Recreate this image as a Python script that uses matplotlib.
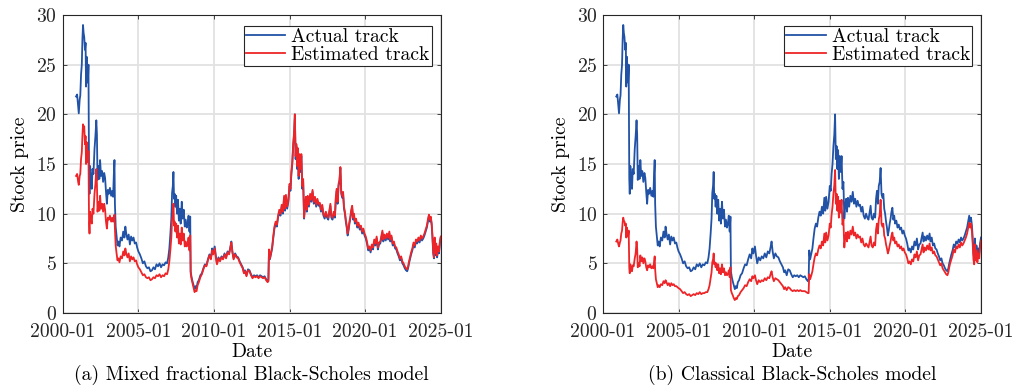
import matplotlib
matplotlib.use("Agg")
import matplotlib.pyplot as plt

plt.rcParams['font.family'] = ['cmr10', 'DejaVu Serif']
plt.rcParams['mathtext.fontset'] = 'cm'
plt.rcParams['axes.unicode_minus'] = False
plt.rcParams['axes.formatter.use_mathtext'] = True

# sample times (decimal years)
years = [
    2000.88, 2000.95, 2001.02, 2001.06, 2001.12, 2001.16, 2001.21, 2001.26, 2001.30, 2001.34,
    2001.38, 2001.42, 2001.47, 2001.51, 2001.54, 2001.58, 2001.62, 2001.66, 2001.70, 2001.74,
    2001.77, 2001.81, 2001.86, 2001.92, 2001.97, 2002.03, 2002.10, 2002.16, 2002.22, 2002.26,
    2002.30, 2002.36, 2002.42, 2002.47, 2002.53, 2002.60, 2002.67, 2002.74, 2002.80, 2002.86,
    2002.92, 2002.98, 2003.05, 2003.12, 2003.20, 2003.27, 2003.33, 2003.38, 2003.42, 2003.45,
    2003.50, 2003.56, 2003.62, 2003.68, 2003.75, 2003.83, 2003.92, 2004.00, 2004.08, 2004.14,
    2004.20, 2004.28, 2004.36, 2004.44, 2004.52, 2004.60, 2004.68, 2004.76, 2004.85, 2004.92,
    2005.00, 2005.10, 2005.20, 2005.30, 2005.40, 2005.50, 2005.60, 2005.70, 2005.80, 2005.90,
    2006.00, 2006.10, 2006.20, 2006.30, 2006.40, 2006.50, 2006.60, 2006.70, 2006.80, 2006.90,
    2006.98, 2007.05, 2007.12, 2007.18, 2007.23, 2007.28, 2007.32, 2007.36, 2007.40, 2007.45,
    2007.50, 2007.56, 2007.62, 2007.68, 2007.74, 2007.80, 2007.87, 2007.93, 2008.00, 2008.07,
    2008.13, 2008.20, 2008.26, 2008.32, 2008.38, 2008.43, 2008.46, 2008.52, 2008.58, 2008.65,
    2008.72, 2008.78, 2008.85, 2008.92, 2009.00, 2009.10, 2009.20, 2009.30, 2009.40, 2009.50,
    2009.60, 2009.70, 2009.80, 2009.88, 2009.95, 2010.05, 2010.12, 2010.20, 2010.30, 2010.40,
    2010.50, 2010.60, 2010.70, 2010.80, 2010.90, 2011.00, 2011.08, 2011.15, 2011.22, 2011.30,
    2011.40, 2011.50, 2011.60, 2011.70, 2011.80, 2011.90, 2011.98, 2012.05, 2012.15, 2012.25,
    2012.35, 2012.45, 2012.55, 2012.65, 2012.75, 2012.85, 2012.95, 2013.05, 2013.15, 2013.25,
    2013.35, 2013.45, 2013.55, 2013.60, 2013.64, 2013.70, 2013.78, 2013.85, 2013.92, 2014.00,
    2014.08, 2014.16, 2014.24, 2014.32, 2014.40, 2014.48, 2014.56, 2014.64, 2014.70, 2014.76,
    2014.84, 2014.92, 2015.00, 2015.06, 2015.12, 2015.18, 2015.24, 2015.30, 2015.35, 2015.40,
    2015.45, 2015.50, 2015.55, 2015.60, 2015.66, 2015.72, 2015.78, 2015.84, 2015.90, 2015.96,
    2016.02, 2016.08, 2016.14, 2016.20, 2016.28, 2016.36, 2016.44, 2016.52, 2016.60, 2016.68,
    2016.76, 2016.84, 2016.92, 2017.00, 2017.08, 2017.16, 2017.24, 2017.32, 2017.40, 2017.48,
    2017.56, 2017.64, 2017.70, 2017.76, 2017.84, 2017.92, 2018.00, 2018.06, 2018.12, 2018.18,
    2018.24, 2018.30, 2018.36, 2018.42, 2018.48, 2018.54, 2018.60, 2018.66, 2018.72, 2018.78,
    2018.84, 2018.90, 2018.96, 2019.02, 2019.08, 2019.14, 2019.20, 2019.26, 2019.32, 2019.40,
    2019.48, 2019.56, 2019.64, 2019.72, 2019.80, 2019.88, 2019.96, 2020.04, 2020.12, 2020.20,
    2020.28, 2020.36, 2020.44, 2020.52, 2020.60, 2020.68, 2020.76, 2020.84, 2020.92, 2021.00,
    2021.08, 2021.14, 2021.20, 2021.28, 2021.36, 2021.44, 2021.52, 2021.60, 2021.66, 2021.74,
    2021.82, 2021.90, 2021.98, 2022.06, 2022.14, 2022.22, 2022.30, 2022.38, 2022.46, 2022.54,
    2022.62, 2022.70, 2022.78, 2022.84, 2022.90, 2022.96, 2023.04, 2023.12, 2023.20, 2023.28,
    2023.36, 2023.44, 2023.52, 2023.60, 2023.68, 2023.76, 2023.84, 2023.92, 2024.00, 2024.08,
    2024.16, 2024.22, 2024.28, 2024.34, 2024.40, 2024.45, 2024.50, 2024.55, 2024.60, 2024.65,
    2024.70, 2024.76, 2024.82, 2024.88, 2024.94, 2025.00,
]

actual = [
    21.8, 22.0, 20.8, 20.1, 21.5, 21.9, 24.0, 25.0, 27.5, 29.0,
    28.2, 27.8, 26.5, 27.2, 22.8, 25.8, 24.5, 23.2, 25.0, 13.5,
    12.0, 14.8, 13.5, 12.5, 14.5, 14.0, 16.5, 17.8, 19.4, 18.0,
    13.4, 14.8, 13.5, 15.4, 13.8, 14.3, 13.2, 14.1, 13.6, 12.2,
    11.0, 12.4, 12.0, 12.6, 11.8, 12.3, 11.7, 14.0, 15.4, 11.0,
    8.7, 7.8, 6.8, 7.2, 6.7, 7.6, 7.3, 8.2, 7.6, 8.7,
    8.0, 7.4, 7.9, 6.9, 7.7, 7.3, 7.6, 7.0, 7.1, 6.6,
    6.2, 5.9, 5.5, 5.0, 5.2, 4.7, 4.5, 4.6, 4.2, 4.3,
    4.6, 4.4, 4.9, 4.7, 5.0, 4.6, 4.9, 4.8, 5.1, 5.0,
    5.6, 6.5, 8.0, 9.5, 12.1, 12.8, 14.2, 11.5, 12.0, 10.7,
    11.8, 10.0, 11.4, 9.3, 10.5, 9.0, 11.2, 9.5, 10.4, 8.7,
    9.4, 8.6, 9.0, 9.8, 8.2, 9.7, 4.2, 3.6, 3.2, 2.8,
    2.4, 2.7, 2.5, 3.1, 3.3, 3.8, 4.0, 4.5, 4.9, 4.8,
    5.4, 5.9, 5.5, 6.5, 6.0, 6.7, 5.8, 5.0, 5.6, 5.3,
    5.7, 5.5, 6.0, 5.6, 6.2, 6.0, 6.6, 7.2, 6.2, 5.5,
    6.0, 5.7, 5.6, 5.2, 4.9, 4.6, 4.1, 4.3, 3.8, 4.4,
    4.3, 3.9, 3.6, 3.8, 3.7, 3.8, 3.6, 3.8, 3.7, 3.6,
    3.7, 3.4, 3.2, 3.3, 6.3, 5.4, 6.0, 6.5, 7.5, 8.5,
    9.0, 8.7, 9.6, 10.2, 9.8, 10.7, 10.0, 11.6, 10.3, 11.7,
    10.5, 11.2, 12.8, 12.3, 14.0, 15.0, 16.8, 18.0, 20.0, 15.5,
    16.8, 14.5, 16.4, 13.5, 15.8, 14.2, 15.8, 12.5, 13.2, 9.5,
    10.8, 11.5, 10.2, 11.6, 10.7, 11.8, 11.2, 12.2, 11.0, 11.5,
    10.7, 11.3, 10.8, 10.9, 10.2, 10.7, 9.8, 9.5, 10.0, 9.6,
    9.4, 10.2, 10.8, 9.6, 9.4, 10.0, 9.6, 11.5, 12.3, 11.0,
    12.8, 13.2, 14.6, 12.0, 11.6, 12.0, 10.5, 10.0, 9.2, 8.6,
    7.8, 8.3, 9.0, 9.5, 10.2, 10.6, 9.4, 9.8, 9.0, 9.3,
    8.6, 8.9, 8.4, 8.6, 8.0, 8.3, 7.8, 7.5, 7.0, 6.3,
    6.5, 6.1, 6.7, 6.4, 7.2, 6.8, 7.5, 6.4, 6.9, 7.0,
    7.6, 8.1, 7.2, 7.7, 7.3, 7.8, 7.4, 8.0, 7.2, 7.6,
    6.8, 7.0, 6.5, 6.4, 6.0, 5.7, 5.3, 5.5, 5.0, 4.8,
    4.5, 4.3, 4.2, 4.5, 5.0, 5.4, 5.9, 6.3, 6.9, 6.6,
    7.2, 7.0, 7.4, 7.1, 7.6, 7.3, 7.5, 7.8, 8.2, 8.6,
    9.3, 9.8, 9.2, 9.6, 8.8, 7.6, 6.0, 5.5, 7.5, 5.8,
    6.8, 5.6, 6.5, 6.0, 7.0, 7.6,
]

est_mixed = [
    13.8, 14.0, 13.2, 12.9, 13.8, 14.0, 15.5, 16.2, 17.8, 19.0,
    18.6, 18.8, 17.0, 17.8, 15.0, 17.2, 16.0, 15.2, 16.3, 9.0,
    8.0, 10.2, 9.5, 9.0, 10.5, 10.0, 12.0, 13.0, 14.5, 13.0,
    10.2, 11.2, 10.3, 11.8, 10.5, 11.0, 10.2, 11.0, 10.4, 9.2,
    8.5, 9.6, 9.4, 9.8, 9.2, 9.6, 9.2, 9.6, 9.9, 8.5,
    6.8, 6.0, 5.3, 5.5, 5.1, 5.7, 5.5, 6.2, 5.8, 6.5,
    6.0, 5.6, 6.0, 5.2, 5.7, 5.4, 5.6, 5.2, 5.3, 4.9,
    4.6, 4.4, 4.1, 3.8, 3.9, 3.6, 3.5, 3.6, 3.3, 3.4,
    3.6, 3.5, 3.8, 3.7, 3.9, 3.6, 3.8, 3.7, 4.0, 3.9,
    4.4, 5.2, 6.4, 7.6, 9.4, 9.8, 11.0, 8.8, 9.2, 8.2,
    9.0, 7.6, 8.8, 7.0, 8.0, 6.9, 8.6, 7.3, 8.0, 6.7,
    7.2, 6.7, 7.0, 7.6, 6.3, 7.8, 4.0, 3.4, 3.0, 2.5,
    2.1, 2.3, 2.2, 2.8, 3.1, 3.6, 3.9, 4.4, 4.8, 4.7,
    5.3, 5.8, 5.4, 6.3, 5.9, 6.5, 5.6, 4.9, 5.5, 5.2,
    5.6, 5.4, 5.9, 5.5, 6.1, 5.9, 6.5, 7.1, 6.1, 5.4,
    5.9, 5.6, 5.5, 5.1, 4.8, 4.5, 4.0, 4.2, 3.7, 4.3,
    4.2, 3.8, 3.5, 3.7, 3.6, 3.7, 3.5, 3.7, 3.6, 3.5,
    3.6, 3.3, 3.1, 3.2, 6.4, 5.5, 6.1, 6.7, 7.7, 8.7,
    9.2, 8.9, 9.8, 10.4, 10.0, 10.9, 10.2, 11.8, 10.5, 11.9,
    10.7, 11.4, 13.0, 12.5, 14.2, 15.2, 17.0, 18.2, 20.0, 15.8,
    17.0, 14.8, 16.6, 13.8, 16.0, 14.5, 16.0, 12.8, 13.5, 9.6,
    11.0, 11.7, 10.4, 11.8, 10.9, 12.0, 11.4, 12.4, 11.2, 11.7,
    10.9, 11.5, 11.0, 11.1, 10.4, 10.9, 10.0, 9.7, 10.2, 9.8,
    9.6, 10.4, 11.0, 9.8, 9.6, 10.2, 9.8, 11.7, 12.5, 11.2,
    13.0, 13.4, 14.7, 12.2, 11.8, 12.2, 10.7, 10.2, 9.4, 8.8,
    8.0, 8.5, 9.2, 9.7, 10.4, 10.8, 9.6, 10.0, 9.2, 9.5,
    8.8, 9.1, 8.6, 8.8, 8.2, 8.5, 8.0, 7.7, 7.2, 6.5,
    6.7, 6.3, 6.9, 6.6, 7.4, 7.0, 7.7, 6.6, 7.1, 7.2,
    7.8, 8.3, 7.4, 7.9, 7.5, 8.0, 7.6, 8.2, 7.4, 7.8,
    7.0, 7.2, 6.7, 6.6, 6.2, 5.9, 5.5, 5.7, 5.2, 5.0,
    4.7, 4.5, 4.4, 4.7, 5.2, 5.6, 6.1, 6.5, 7.1, 6.8,
    7.4, 7.2, 7.6, 7.3, 7.8, 7.5, 7.7, 8.0, 8.4, 8.8,
    9.5, 9.9, 9.4, 9.7, 9.0, 7.8, 6.2, 5.6, 7.6, 6.0,
    7.0, 5.8, 6.7, 6.2, 7.2, 7.7,
]

est_classical = [
    7.2, 7.4, 6.9, 6.7, 7.1, 7.3, 8.0, 8.3, 9.1, 9.6,
    9.3, 9.2, 8.8, 9.0, 7.6, 8.6, 8.1, 7.7, 8.3, 4.5,
    4.0, 4.9, 4.5, 4.2, 4.8, 4.7, 5.5, 6.0, 7.2, 6.5,
    4.6, 5.0, 4.7, 5.8, 5.2, 5.6, 5.0, 5.5, 5.2, 4.6,
    4.3, 4.8, 4.6, 4.9, 4.5, 4.7, 4.5, 5.2, 5.7, 4.4,
    3.4, 3.0, 2.6, 2.8, 2.6, 2.9, 2.8, 3.2, 3.0, 3.3,
    3.1, 2.8, 3.0, 2.7, 3.0, 2.8, 2.9, 2.7, 2.7, 2.6,
    2.5, 2.4, 2.2, 2.0, 2.1, 1.9, 1.8, 1.9, 1.7, 1.8,
    1.9, 1.8, 2.0, 1.9, 2.1, 1.9, 2.0, 2.0, 2.1, 2.1,
    2.4, 2.8, 3.5, 4.1, 5.1, 5.4, 6.0, 4.9, 5.1, 4.6,
    5.0, 4.3, 4.9, 4.0, 4.5, 3.9, 4.9, 4.1, 4.5, 3.8,
    4.1, 3.8, 3.9, 4.3, 3.6, 4.6, 2.3, 2.0, 1.8, 1.5,
    1.3, 1.5, 1.4, 1.7, 1.8, 2.1, 2.3, 2.5, 2.8, 2.7,
    3.1, 3.4, 3.2, 3.7, 3.5, 3.8, 3.3, 2.9, 3.3, 3.1,
    3.3, 3.2, 3.5, 3.3, 3.6, 3.5, 3.9, 4.2, 3.6, 3.2,
    3.5, 3.4, 3.3, 3.1, 2.9, 2.7, 2.4, 2.6, 2.3, 2.6,
    2.5, 2.3, 2.2, 2.3, 2.2, 2.3, 2.2, 2.3, 2.2, 2.2,
    2.2, 2.1, 2.0, 2.0, 3.9, 3.4, 3.8, 4.2, 4.9, 5.6,
    6.0, 5.8, 6.4, 6.8, 6.5, 7.2, 6.8, 8.0, 7.1, 8.1,
    7.3, 7.8, 9.0, 8.6, 9.9, 10.7, 12.0, 12.9, 14.4, 11.0,
    12.0, 10.3, 11.7, 9.6, 11.3, 10.1, 11.4, 8.9, 9.4, 6.6,
    7.6, 8.1, 7.2, 8.2, 7.5, 8.3, 7.9, 8.7, 7.8, 8.1,
    7.5, 7.9, 7.6, 7.7, 7.1, 7.5, 6.9, 6.7, 7.0, 6.8,
    6.6, 7.2, 7.7, 6.8, 6.6, 7.1, 6.8, 8.4, 9.0, 8.0,
    9.4, 9.9, 11.4, 9.0, 8.7, 9.0, 7.8, 7.5, 6.9, 6.5,
    6.0, 6.3, 6.8, 7.2, 7.8, 8.1, 7.3, 7.6, 7.0, 7.2,
    6.7, 6.9, 6.5, 6.7, 6.3, 6.5, 6.1, 5.9, 5.5, 5.0,
    5.2, 4.9, 5.4, 5.2, 5.9, 5.6, 6.2, 5.3, 5.8, 5.9,
    6.5, 6.9, 6.1, 6.6, 6.3, 6.8, 6.4, 7.0, 6.3, 6.6,
    6.0, 6.2, 5.8, 5.7, 5.4, 5.1, 4.8, 5.0, 4.5, 4.3,
    4.1, 3.9, 3.8, 4.1, 4.6, 5.0, 5.4, 5.8, 6.4, 6.1,
    6.7, 6.5, 6.9, 6.6, 7.1, 6.8, 7.0, 7.3, 7.6, 8.0,
    8.6, 9.1, 8.6, 9.0, 8.2, 7.0, 5.4, 4.9, 6.9, 5.3,
    6.3, 5.1, 6.0, 5.5, 6.6, 7.3,
]

tick_years = [2000, 2005, 2010, 2015, 2020, 2025]
tick_labels = ["2000-01", "2005-01", "2010-01", "2015-01", "2020-01", "2025-01"]
captions = ["(a) Mixed fractional Black-Scholes model", "(b) Classical Black-Scholes model"]

blue = "#2152a6"
red = "#ee2528"
fs = 14.2

fig = plt.figure(figsize=(10.17, 3.91), dpi=100)
ax_a = fig.add_axes([0.0617, 0.1995, 0.3717, 0.762])
ax_b = fig.add_axes([0.5929, 0.1995, 0.3717, 0.762])

for ax, est, cap in [(ax_a, est_mixed, captions[0]), (ax_b, est_classical, captions[1])]:
    ax.plot(years, actual, color=blue, lw=1.3, label="Actual track")
    ax.plot(years, est, color=red, lw=1.3, label="Estimated track")
    ax.set_xlim(2000, 2025)
    ax.set_ylim(0, 30)
    ax.set_xticks(tick_years)
    ax.set_xticklabels(tick_labels)
    ax.set_yticks(range(0, 31, 5))
    ax.grid(True, color="#e2e2e2", lw=1.3)
    ax.set_axisbelow(True)
    ax.tick_params(axis="x", pad=7)
    ax.tick_params(axis="y", pad=4)
    ax.tick_params(direction="in", top=True, right=True, length=3, width=0.6,
                   labelsize=fs, colors="#262626")
    for sp in ax.spines.values():
        sp.set_linewidth(0.8)
        sp.set_color("#262626")
    ax.set_xlabel("Date", fontsize=fs, labelpad=2)
    ax.set_ylabel("Stock price", fontsize=fs, labelpad=5)
    leg = ax.legend(loc="upper right", bbox_to_anchor=(0.976, 0.962), fontsize=fs,
                    frameon=True, fancybox=False, edgecolor="#262626", framealpha=1,
                    borderpad=0.1, labelspacing=0.0, handlelength=2.0,
                    handletextpad=0.3, borderaxespad=0.0)
    leg.get_frame().set_linewidth(0.8)
    bbox = ax.get_position()
    fig.text(bbox.x0 + bbox.width / 2, 0.041, cap, ha="center", va="center", fontsize=fs)

fig.savefig("out.png", dpi=100)
